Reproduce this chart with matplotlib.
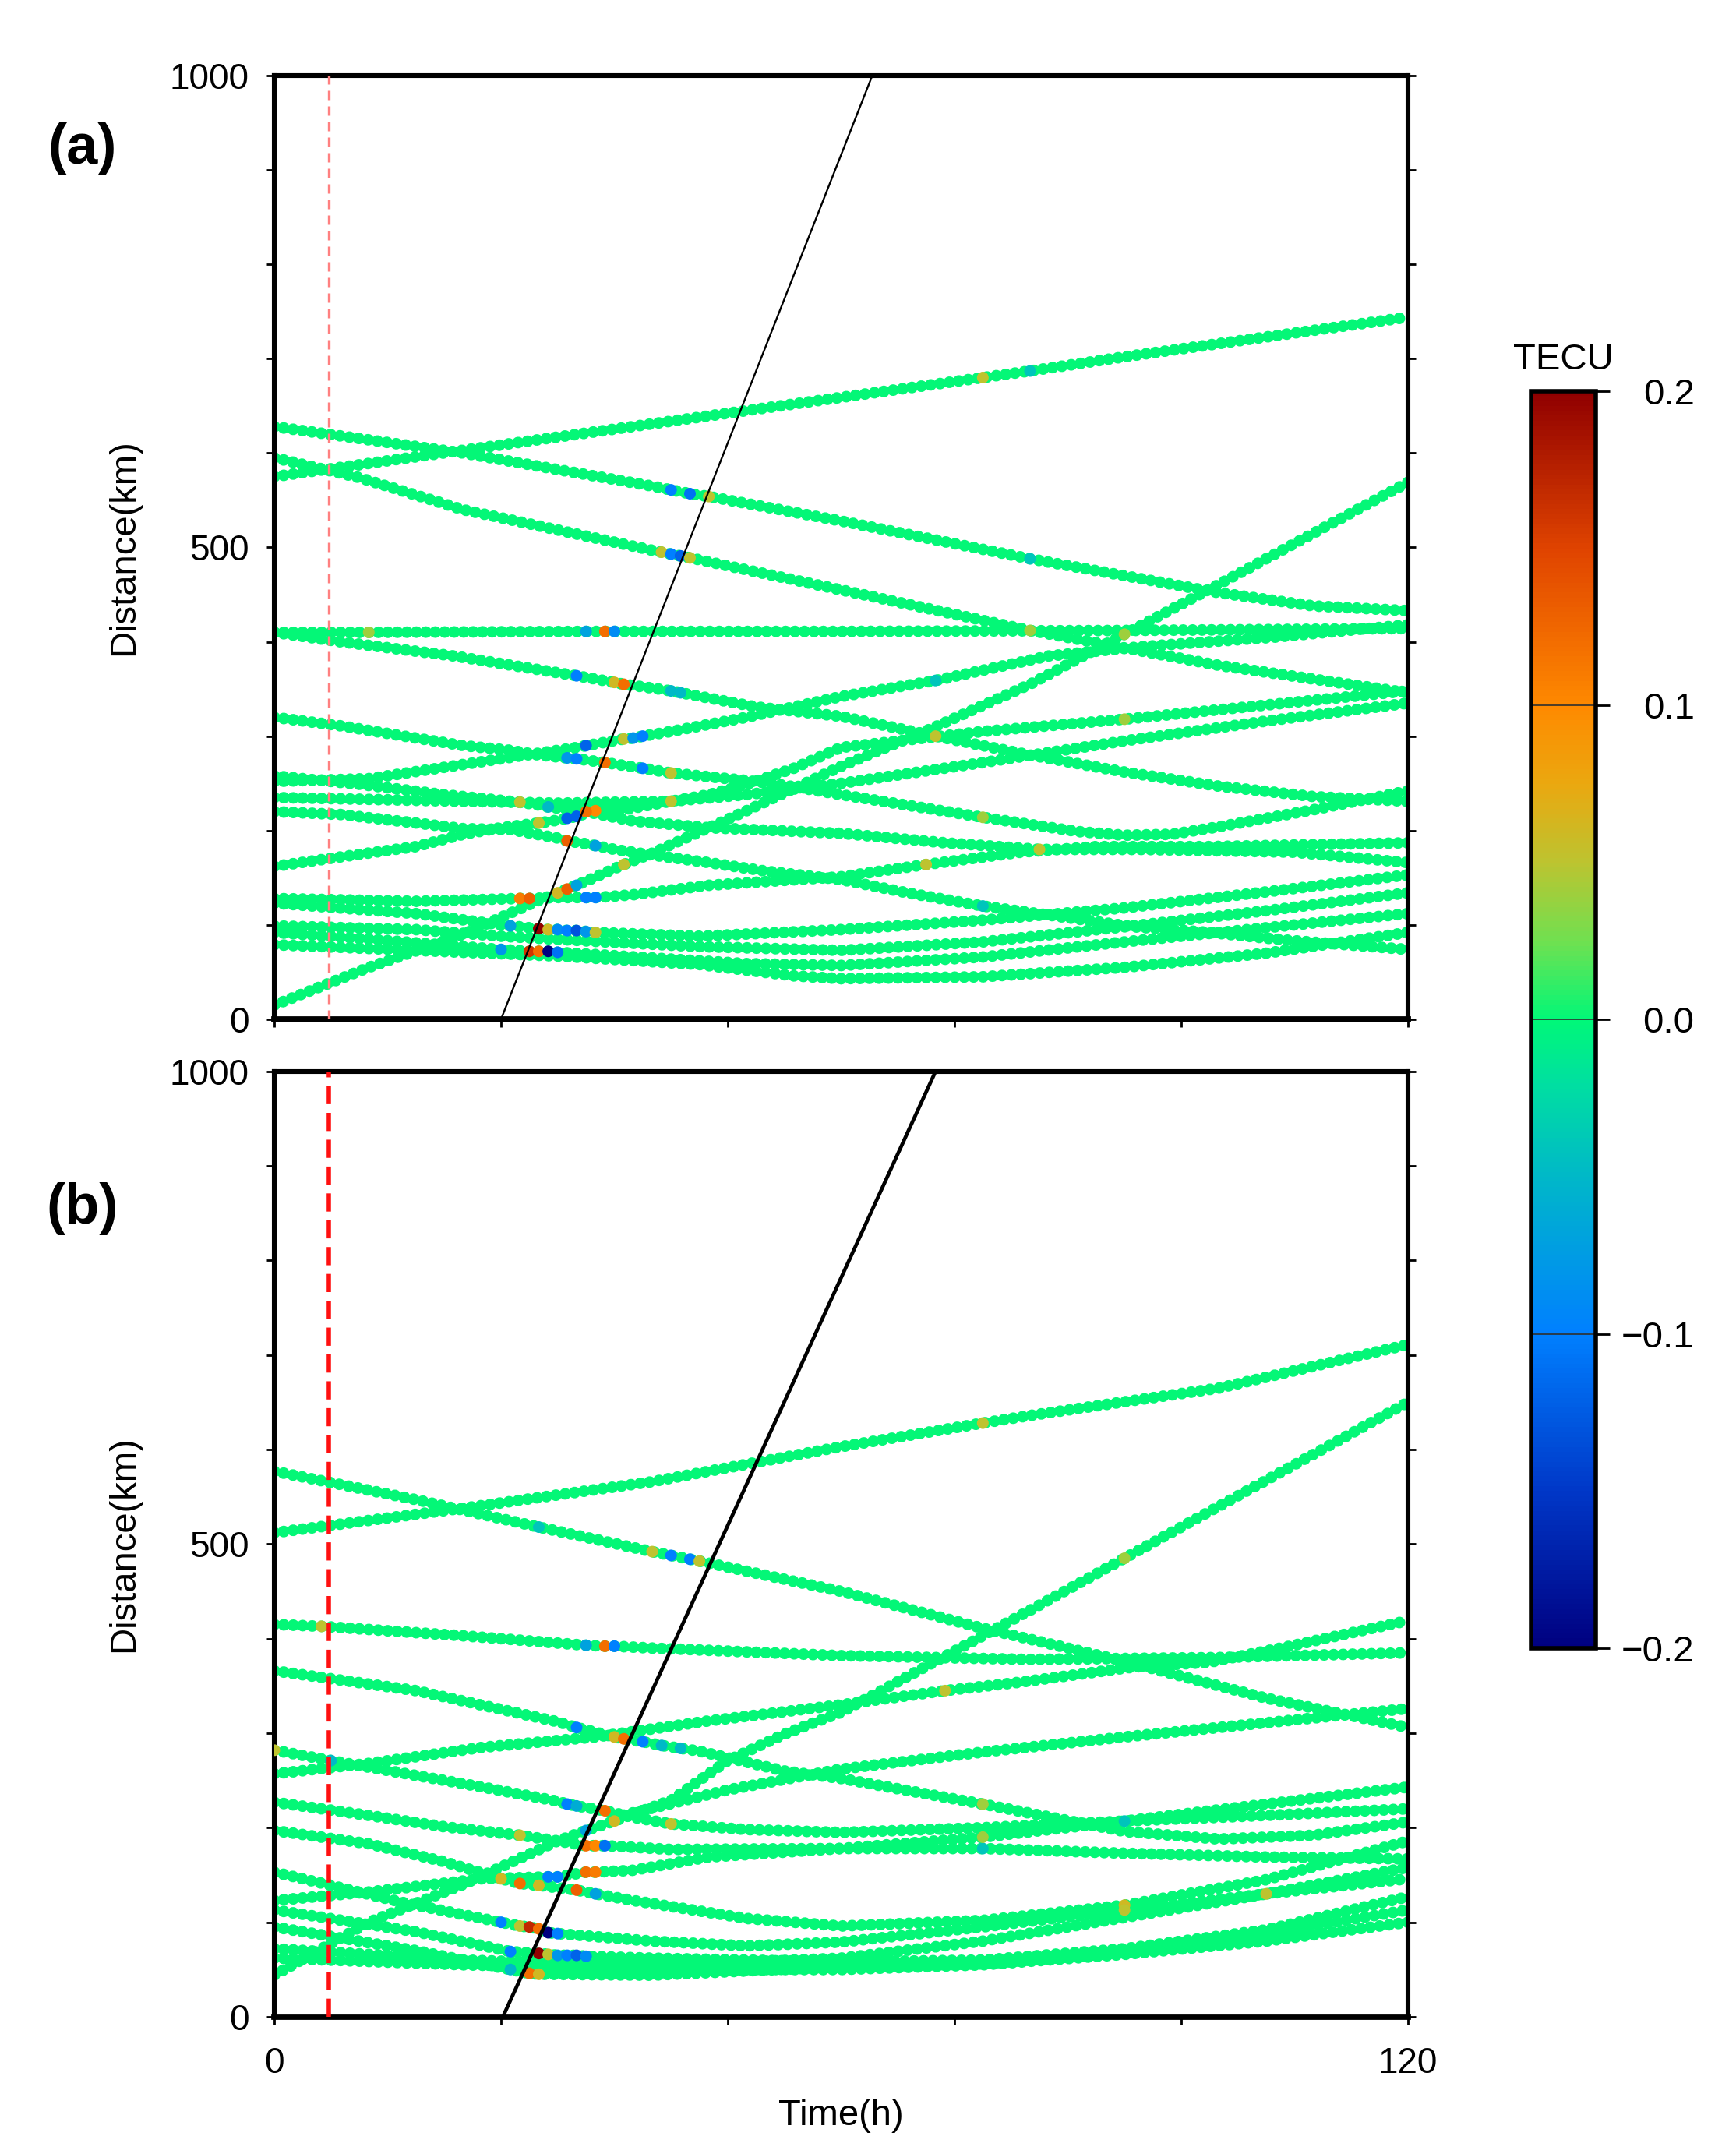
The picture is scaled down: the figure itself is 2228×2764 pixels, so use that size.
import numpy as np
import matplotlib
matplotlib.use('Agg')
import matplotlib.pyplot as plt
from matplotlib.colors import LinearSegmentedColormap, Normalize
from matplotlib.cm import ScalarMappable

plt.rcParams['font.family'] = ['Liberation Sans', 'DejaVu Sans']

# colour scale (TECU)
cbar_levels = [-0.2, -0.15, -0.1, -0.05, -0.02, 0.0, 0.025, 0.05, 0.075, 0.1, 0.15, 0.2]
cbar_colors = ['#000080', '#0038c8', '#0080ff', '#00b8c8', '#00e0a0', '#00f878',
               '#70e050', '#bcc430', '#eaa810', '#ff8a00', '#e04400', '#900000']
cbar_ticks = [-0.2, -0.1, 0.0, 0.1, 0.2]
cbar_ticklabels = ['\u22120.2', '\u22120.1', '0.0', '0.1', '0.2']

time_ticks = [0, 24, 48, 72, 96, 120]
time_ticklabels = ['0', '', '', '', '', '120']
dist_ticks = [0, 500, 1000]
dist_minor = [0, 100, 200, 300, 400, 500, 600, 700, 800, 900, 1000]

# event time and travelling front, per panel
a_event_time = 5.8
b_event_time = 5.8
a_front_time = [24.0, 63.3]
a_front_dist = [0, 1000]
b_front_time = [24.2, 70.0]
b_front_dist = [0, 1000]

# satellite tracks, rows are (time h, distance km, dTEC)
a01 = np.array([(0, 575, 0), (30, 617, 0), (60, 659, 0), (75, 680, 0.05), (80, 687, -0.04),
                (90, 702, 0), (120, 744, 0)])
a02 = np.array([(0, 628, 0), (20, 600, 0), (40, 565, 0), (42, 561, -0.1), (44, 557, -0.11),
                (46, 554, 0.05), (60, 528, 0), (80, 488, -0.04), (100, 452, 0), (110, 438, 0),
                (120, 433, 0)])
a03 = np.array([(0, 595, 0), (9, 574, 0), (20, 540, 0), (40, 497, 0), (41, 495, 0.05),
                (42, 493, -0.1), (43, 491, -0.12), (44, 489, 0.05), (60, 455, 0), (80, 412, 0.04),
                (100, 375, 0), (120, 346, 0)])
a04 = np.array([(0, 410, 0), (10, 410, 0.04), (33, 411, -0.07), (35, 411, 0.12), (36, 411, -0.09),
                (60, 411, 0), (90, 412, 0), (120, 414, 0)])
a05 = np.array([(0, 410, 0), (7, 400, 0), (19, 385, 0), (32, 364, -0.1), (36, 357, 0.06),
                (37, 355, 0.12), (40, 351, 0), (42, 348, -0.05), (43, 346, -0.05), (51, 331, 0),
                (60, 321, 0), (70, 300, 0.05), (80, 280, 0), (90, 262, 0), (100, 247, 0),
                (110, 236, 0), (120, 231, 0)])
a06 = np.array([(0, 15, 0), (10, 55, 0), (20, 90, 0), (28, 126, 0), (30, 134, 0.06),
                (31, 138, 0.13), (32, 142, -0.07), (37, 164, 0.05), (40, 176, 0), (50, 221, 0),
                (60, 268, 0), (70, 310, 0), (80, 355, 0), (90, 408, 0.04), (100, 461, 0),
                (110, 515, 0), (120, 569, 0)])
a07 = np.array([(0, 320, 0), (7, 311, 0), (15, 298, 0), (20, 290, 0), (25, 285, 0), (28, 280, 0),
                (31, 277, -0.08), (32, 276, -0.1), (35, 272, 0.12), (39, 266, -0.1),
                (42, 261, 0.05), (50, 253, 0), (54, 248, 0), (60, 238, 0), (75, 214, 0.04),
                (85, 199, 0), (90, 195, 0), (95, 196, 0), (100, 204, 0), (110, 222, 0),
                (120, 242, 0)])
a08 = np.array([(0, 252, 0), (10, 255, 0), (18, 267, 0), (26, 279, 0), (32, 288, 0),
                (33, 290, -0.12), (37, 297, 0.05), (38, 298, -0.08), (39, 300, -0.1),
                (42, 305, 0), (50, 320, 0), (60, 342, 0), (70, 359, -0.04), (82, 385, 0),
                (92, 395, 0), (106, 405, 0), (120, 418, 0)])
a09 = np.array([(0, 162, 0), (7, 172, 0), (15, 183, 0), (20, 196, 0), (24, 203, 0),
                (28, 208, 0.05), (30, 211, 0), (31, 213, -0.12), (32, 215, -0.12),
                (34, 221, 0.1), (37, 222, 0), (42, 231, 0.05), (46, 238, 0), (50, 249, 0),
                (55, 266, 0), (60, 288, 0), (75, 305, 0), (90, 318, 0.04), (105, 333, 0),
                (120, 348, 0)])
a10 = np.array([(0, 258, 0), (9, 249, 0), (18, 238, 0), (26, 230, 0.05), (28, 227, 0),
                (29, 225, -0.05), (33, 220, 0.12), (38, 210, 0), (46, 203, 0), (60, 197, 0),
                (71, 187, 0), (81, 180, 0.05), (92, 180, 0), (108, 177, 0), (120, 166, 0)])
a11 = np.array([(0, 235, 0), (15, 232, 0), (30, 229, 0), (42, 231, 0), (50, 238, 0),
                (60, 250, 0), (75, 272, 0), (90, 295, 0), (105, 316, 0), (120, 335, 0)])
a12 = np.array([(0, 220, 0), (7, 217, 0), (15, 208, 0), (20, 202, 0), (25, 201, 0), (30, 192, 0),
                (31, 189, 0.13), (33, 186, 0), (34, 184, -0.07), (36, 180, 0), (40, 174, 0),
                (46, 166, 0), (52, 157, 0), (60, 148, 0), (67, 134, 0), (75, 120, -0.04),
                (83, 109, 0), (91, 98, 0), (99, 92, 0), (107, 84, 0), (120, 74, 0)])
a13 = np.array([(0, 128, 0), (15, 125, 0), (26, 128, 0.11), (27, 128, 0.13), (30, 129, 0),
                (33, 129, -0.1), (34, 129, -0.1), (38, 132, 0), (46, 142, 0), (60, 151, 0),
                (69, 164, 0.05), (79, 177, 0), (87, 183, 0), (99, 183, 0), (120, 187, 0)])
a14 = np.array([(0, 123, 0), (15, 112, 0), (24, 100, 0), (25, 99, -0.07), (28, 96, 0.2),
                (29, 95, 0.06), (30, 95, -0.09), (31, 94, -0.1), (32, 94, -0.13),
                (33, 93, -0.08), (34, 92, 0.05), (45, 88, 0), (60, 95, 0), (75, 105, 0),
                (90, 118, 0), (105, 135, 0), (120, 153, 0)])
a15 = np.array([(0, 92, 0), (10, 85, 0), (20, 77, 0), (24, 74, -0.08), (27, 72, 0.16),
                (28, 72, 0.12), (29, 72, -0.2), (30, 71, -0.11), (40, 65, 0), (50, 59, 0),
                (60, 57, 0), (75, 66, 0), (90, 82, 0), (105, 97, 0), (120, 112, 0)])
a16 = np.array([(0, 99, 0), (15, 95, 0), (24, 88, 0), (35, 82, 0), (45, 77, 0), (60, 73, 0),
                (75, 82, 0), (90, 98, 0), (105, 115, 0), (120, 134, 0)])
a17 = np.array([(0, 79, 0), (15, 73, 0), (30, 67, 0), (45, 58, 0), (55, 46, 0), (60, 43, 0),
                (75, 45, 0), (90, 55, 0), (105, 70, 0), (120, 92, 0)])

b01 = np.array([(0, 577, 0), (15, 547, 0), (28, 518, -0.04), (40, 492, 0.05), (42, 488, -0.1),
                (44, 484, -0.1), (45, 482, 0.05), (60, 450, 0), (75, 411, 0), (90, 376, 0),
                (105, 337, 0), (120, 306, 0)])
b02 = np.array([(0, 512, 0), (20, 538, 0), (40, 566, 0), (60, 603, 0), (75, 628, 0.05),
                (80, 636, 0), (100, 665, 0), (120, 711, 0)])
b03 = np.array([(0, 415, 0), (5, 413, 0.05), (20, 403, 0), (33, 393, -0.07), (35, 392, 0.12),
                (36, 392, -0.1), (40, 390, 0), (60, 382, 0), (80, 378, 0), (100, 380, 0),
                (120, 385, 0)])
b04 = np.array([(0, 366, 0), (15, 345, 0), (30, 312, 0), (32, 306, -0.1), (36, 296, 0.06),
                (37, 294, 0.12), (39, 291, -0.1), (41, 287, -0.05), (43, 284, -0.05),
                (45, 281, 0), (54, 260, 0), (60, 252, 0), (75, 225, 0.04), (90, 196, 0),
                (100, 188, 0), (110, 192, 0), (120, 206, 0)])
b05 = np.array([(0, 257, 0), (10, 268, 0), (22, 285, 0), (34, 296, 0), (46, 313, 0),
                (60, 330, 0), (71, 345, 0.05), (79, 354, 0), (91, 370, 0), (99, 375, 0),
                (107, 391, 0), (120, 419, 0)])
b06 = np.array([(0, 282, 0.05), (6, 271, -0.05), (22, 243, 0), (30, 228, 0), (31, 225, -0.1),
                (32, 223, -0.06), (35, 218, 0.12), (38, 211, 0), (42, 204, 0.05), (50, 198, 0),
                (60, 195, 0), (75, 200, 0), (90, 207, -0.04), (105, 213, 0), (120, 220, 0)])
b07 = np.array([(0, 227, 0), (10, 213, 0), (18, 201, 0), (26, 192, 0.05), (30, 186, 0),
                (33, 181, 0.12), (34, 181, 0.1), (35, 181, -0.11), (42, 177, 0), (60, 178, 0),
                (75, 178, -0.04), (90, 173, 0), (105, 169, 0), (120, 167, 0)])
b08 = np.array([(0, 197, 0), (10, 183, 0), (18, 164, 0), (24, 146, 0.06), (26, 141, 0.12),
                (28, 139, 0.06), (32, 134, 0.13), (34, 130, -0.07), (38, 123, 0), (50, 104, 0),
                (60, 96, 0), (75, 102, 0), (90, 118, 0.06), (105, 145, 0), (120, 186, 0)])
b09 = np.array([(0, 123, 0), (10, 132, 0), (22, 146, 0), (29, 148, -0.1), (30, 148, -0.1),
                (33, 153, 0.12), (34, 153, 0.11), (38, 155, 0), (46, 169, 0), (60, 178, 0),
                (75, 190, 0.04), (90, 207, 0), (105, 225, 0), (120, 243, 0)])
b10 = np.array([(0, 153, 0), (6, 139, 0), (14, 120, 0), (24, 100, -0.1), (26, 96, 0.05),
                (27, 95, 0.17), (28, 93, 0.12), (29, 89, -0.2), (30, 88, -0.1), (40, 80, 0),
                (50, 75, 0), (60, 79, 0), (75, 95, 0), (90, 113, 0.05), (105, 130, 0),
                (120, 146, 0)])
b11 = np.array([(0, 113, 0), (15, 90, 0), (25, 69, -0.1), (28, 67, 0.2), (29, 66, 0.05),
                (30, 65, -0.08), (31, 65, -0.1), (32, 65, -0.12), (33, 64, -0.09), (40, 62, 0),
                (60, 58, 0), (75, 60, 0), (90, 72, 0), (105, 92, 0), (120, 127, 0)])
b12 = np.array([(0, 95, 0), (15, 70, 0), (25, 50, -0.05), (27, 46, 0.12), (28, 45, 0.06),
                (40, 44, 0), (60, 53, 0), (75, 56, 0), (90, 68, 0), (105, 88, 0), (120, 113, 0)])
b13 = np.array([(0, 72, 0), (20, 60, 0), (40, 54, 0), (60, 62, 0), (75, 80, 0), (90, 105, 0),
                (105, 130, 0.05), (120, 158, 0)])
b14 = np.array([(0, 62, 0), (20, 55, 0), (40, 50, 0), (60, 50, 0), (75, 55, 0), (90, 66, 0),
                (105, 80, 0), (120, 100, 0)])
b15 = np.array([(0, 44, 0), (10, 100, 0), (20, 140, 0), (30, 186, 0), (33, 197, -0.07),
                (36, 207, 0.06), (42, 229, 0), (48, 271, 0), (54, 299, 0), (60, 322, 0),
                (70, 376, 0), (80, 430, 0), (90, 485, 0.04), (100, 540, 0), (110, 595, 0),
                (120, 650, 0)])
b16 = np.array([(36, 211, 0), (48, 240, 0), (60, 262, 0), (75, 280, 0), (90, 296, 0),
                (105, 311, 0), (120, 326, 0)])

tracks_a = [a01, a02, a03, a04, a05, a06, a07, a08, a09, a10, a11, a12, a13, a14, a15, a16, a17]
tracks_b = [b01, b02, b03, b04, b05, b06, b07, b08, b09, b10, b11, b12, b13, b14, b15, b16]

cmap = LinearSegmentedColormap.from_list(
    'tecu', [((l + 0.2) / 0.4, c) for l, c in zip(cbar_levels, cbar_colors)])
norm = Normalize(vmin=-0.2, vmax=0.2)

DOT = 5.4  # dot diameter in points
base_color = cmap(norm(0.0))


def draw_tracks(ax, tracks):
    for tr in tracks:
        # chain of round dots along the track
        ax.plot(tr[:, 0], tr[:, 1], color=base_color, lw=DOT,
                linestyle=(0, (0.01, 0.8)), dash_capstyle='round', zorder=2)
    pts = np.vstack(tracks)
    pts = pts[pts[:, 2] != 0]
    ax.scatter(pts[:, 0], pts[:, 1], c=pts[:, 2], cmap=cmap, norm=norm,
               s=DOT ** 2, linewidths=0, zorder=3)


def style_axes(ax, xlabels):
    ax.set_xlim(0, 120)
    ax.set_ylim(0, 1000)
    ax.set_xticks(time_ticks)
    ax.set_xticklabels(time_ticklabels if xlabels else [])
    ax.set_yticks(dist_ticks)
    ax.set_yticks(dist_minor, minor=True)
    ax.set_yticklabels([str(v) for v in dist_ticks])
    ax.tick_params(axis='y', which='both', direction='out', length=3.6, width=1.0,
                   left=True, right=True, labelsize=16.5, pad=8)
    ax.tick_params(axis='x', which='both', direction='out', length=3.6, width=1.0,
                   bottom=True, top=False, labelsize=16.5, pad=10)
    for s in ax.spines.values():
        s.set_linewidth(2.2)
    ax.spines['bottom'].set_linewidth(2.8)


fig = plt.figure(figsize=(11.14, 13.82), dpi=200)
ax_a = fig.add_axes([0.158, 0.5268, 0.653, 0.4381])
ax_b = fig.add_axes([0.158, 0.0637, 0.653, 0.4389])
cax = fig.add_axes([0.882, 0.2348, 0.0373, 0.5836])

draw_tracks(ax_a, tracks_a)
ax_a.axvline(a_event_time, color='#ff8080', lw=1.2, linestyle=(0, (3.6, 2.4)), zorder=4)
ax_a.plot(a_front_time, a_front_dist, color='black', lw=0.85, zorder=5)
style_axes(ax_a, False)

draw_tracks(ax_b, tracks_b)
ax_b.axvline(b_event_time, color='#ff1010', lw=2.0, linestyle=(0, (4.2, 2.0)), zorder=4)
ax_b.plot(b_front_time, b_front_dist, color='black', lw=1.7, zorder=5)
style_axes(ax_b, True)

sm = ScalarMappable(norm=norm, cmap=cmap)
cb = fig.colorbar(sm, cax=cax, ticks=cbar_ticks)
cb.outline.set_linewidth(2.0)
cax.set_yticklabels(cbar_ticklabels)
cax.tick_params(length=6.5, width=1.0, labelsize=17, pad=39)
for lbl in cax.get_yticklabels():
    lbl.set_horizontalalignment('right')
for v in cbar_ticks[1:-1]:
    cax.axhline(v, color='#303030', lw=0.6)

fig.text(0.0714, 0.7459, 'Distance(km)', rotation=90, ha='center', va='center', fontsize=17)
fig.text(0.0714, 0.2832, 'Distance(km)', rotation=90, ha='center', va='center', fontsize=17)
fig.text(0.4843, 0.0177, 'Time(h)', ha='center', va='center', fontsize=17)
fig.text(0.0476, 0.931, '(a)', ha='center', va='center', fontsize=26, fontweight='bold')
fig.text(0.0476, 0.4389, '(b)', ha='center', va='center', fontsize=26, fontweight='bold')
fig.text(0.9003, 0.8329, 'TECU', ha='center', va='center', fontsize=17)

fig.savefig('out.png', dpi=200)
